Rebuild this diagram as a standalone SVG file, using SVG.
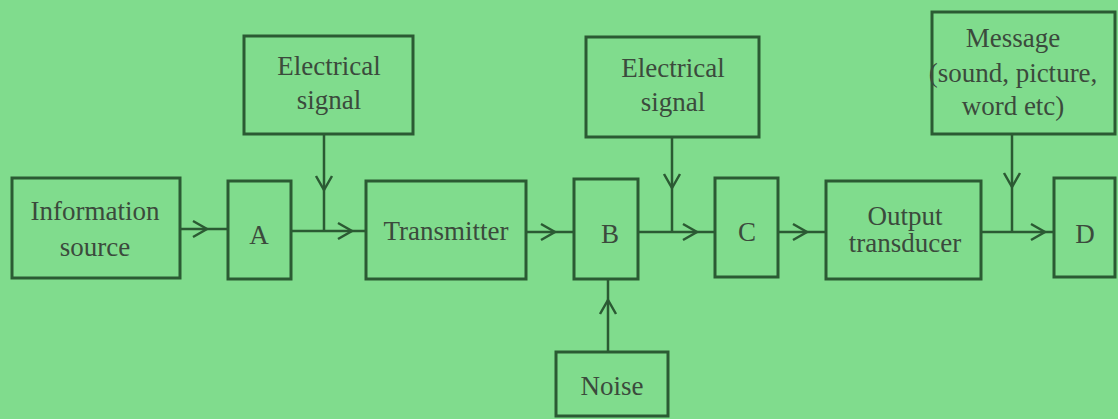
<svg xmlns="http://www.w3.org/2000/svg" width="1118" height="419" viewBox="0 0 1118 419">
<defs>
<marker id="ch" viewBox="0 0 20 20" refX="16" refY="10" markerWidth="20" markerHeight="20" markerUnits="userSpaceOnUse" orient="auto">
<path d="M2,2 L16,10 L2,18" fill="none" stroke="#2b5a33" stroke-width="2.5"/>
</marker>
</defs>
<rect width="1118" height="419" fill="#80dc8d"/>
<g id="info"><rect x="12" y="178" width="168" height="100" fill="none" stroke="#2b5a33" stroke-width="3"/><text x="95" y="220" font-family="serif" font-size="27" fill="#3b4a3c" text-anchor="middle">Information</text><text x="95" y="256" font-family="serif" font-size="27" fill="#3b4a3c" text-anchor="middle">source</text></g>
<g id="A"><rect x="228" y="181" width="63" height="98" fill="none" stroke="#2b5a33" stroke-width="3"/><text x="259" y="244" font-family="serif" font-size="27" fill="#3b4a3c" text-anchor="middle">A</text></g>
<g id="es1"><rect x="244" y="36" width="169" height="98" fill="none" stroke="#2b5a33" stroke-width="3"/><text x="329" y="75" font-family="serif" font-size="27" fill="#3b4a3c" text-anchor="middle">Electrical</text><text x="329" y="109" font-family="serif" font-size="27" fill="#3b4a3c" text-anchor="middle">signal</text></g>
<g id="tx"><rect x="366" y="181" width="160" height="98" fill="none" stroke="#2b5a33" stroke-width="3"/><text x="446" y="240" font-family="serif" font-size="27" fill="#3b4a3c" text-anchor="middle">Transmitter</text></g>
<g id="B"><rect x="574" y="179" width="64" height="100" fill="none" stroke="#2b5a33" stroke-width="3"/><text x="610" y="243" font-family="serif" font-size="27" fill="#3b4a3c" text-anchor="middle">B</text></g>
<g id="noise"><rect x="556" y="352" width="112" height="64" fill="none" stroke="#2b5a33" stroke-width="3"/><text x="612" y="395" font-family="serif" font-size="27" fill="#3b4a3c" text-anchor="middle">Noise</text></g>
<g id="es2"><rect x="586" y="37" width="173" height="100" fill="none" stroke="#2b5a33" stroke-width="3"/><text x="673" y="77" font-family="serif" font-size="27" fill="#3b4a3c" text-anchor="middle">Electrical</text><text x="673" y="111" font-family="serif" font-size="27" fill="#3b4a3c" text-anchor="middle">signal</text></g>
<g id="C"><rect x="715" y="178" width="63" height="99" fill="none" stroke="#2b5a33" stroke-width="3"/><text x="747" y="241" font-family="serif" font-size="27" fill="#3b4a3c" text-anchor="middle">C</text></g>
<g id="ot"><rect x="826" y="181" width="155" height="98" fill="none" stroke="#2b5a33" stroke-width="3"/><text x="905" y="225" font-family="serif" font-size="27" fill="#3b4a3c" text-anchor="middle">Output</text><text x="905" y="252" font-family="serif" font-size="27" fill="#3b4a3c" text-anchor="middle">transducer</text></g>
<g id="msg"><rect x="932" y="12" width="183" height="122" fill="none" stroke="#2b5a33" stroke-width="3"/><text x="1013" y="47" font-family="serif" font-size="27" fill="#3b4a3c" text-anchor="middle">Message</text><text x="1013" y="82" font-family="serif" font-size="27" fill="#3b4a3c" text-anchor="middle">(sound, picture,</text><text x="1013" y="115" font-family="serif" font-size="27" fill="#3b4a3c" text-anchor="middle">word etc)</text></g>
<g id="D"><rect x="1054" y="178" width="61" height="99" fill="none" stroke="#2b5a33" stroke-width="3"/><text x="1085" y="243" font-family="serif" font-size="27" fill="#3b4a3c" text-anchor="middle">D</text></g>
<g id="connectors" fill="none" stroke="#2b5a33" stroke-width="2.5" marker-mid="url(#ch)">
<path d="M180,229 L207,229 L228,229"/>
<path d="M291,231 L352,231 L366,231"/>
<path d="M324,134 L324,190 L324,231"/>
<path d="M526,232 L555,232 L574,232"/>
<path d="M638,232 L697,232 L715,232"/>
<path d="M672,137 L672,188 L672,232"/>
<path d="M608,352 L608,300 L608,279"/>
<path d="M778,232 L807,232 L826,232"/>
<path d="M981,232 L1045,232 L1054,232"/>
<path d="M1012,134 L1012,187 L1012,232"/>
</g>
</svg>
